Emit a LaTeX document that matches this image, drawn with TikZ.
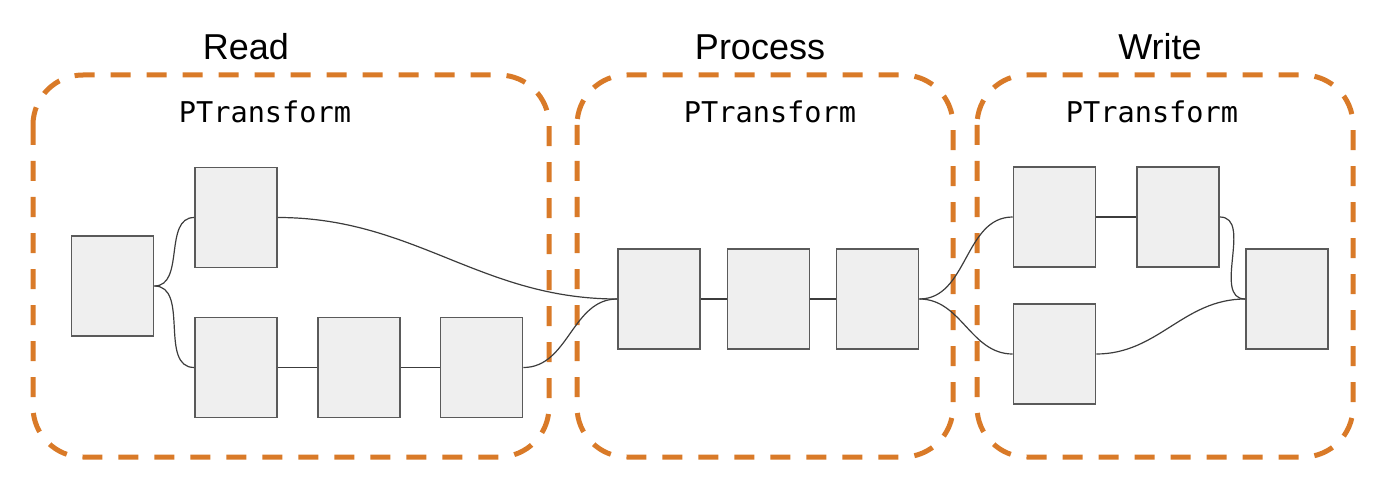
\documentclass[tikz,border=0pt]{standalone}
\usepackage{fontspec}
\setmainfont{Liberation Sans}
\setmonofont{DejaVu Sans Mono}

\definecolor{dashorange}{HTML}{D97A28}
\definecolor{boxfill}{HTML}{EFEFEF}
\definecolor{boxedge}{HTML}{5A5A5A}
\definecolor{wiregray}{HTML}{3C3C3C}

\tikzset{
  stage/.style={draw=dashorange, line width=2.5pt, dash pattern=on 10pt off 8pt, rounded corners=25pt},
  stagetitle/.style={font=\fontsize{18}{20}\selectfont, anchor=base},
  ptlabel/.style={font=\ttfamily\fontsize{14.3}{16}\selectfont, anchor=base},
  pbox/.style={draw=boxedge, fill=boxfill, line width=0.8pt, minimum width=41pt, minimum height=50pt, inner sep=0pt},
  wire/.style={draw=wiregray, line width=0.6pt},
}

\begin{document}
\begin{tikzpicture}[x=0.5pt,y=-0.5pt]
        \useasboundingbox (0,0) rectangle (1400,497);

        % dashed stages
        \draw[stage] (33,75) rectangle (549,457);
        \draw[stage] (577,75) rectangle (953,457);
        \draw[stage] (977,75) rectangle (1353,457);

        % titles
        \node[stagetitle] (readtitle) at (246,60) {Read};
        \node[stagetitle] (proctitle) at (760,60) {Process};
        \node[stagetitle] (writetitle) at (1160,60) {Write};
        \node[ptlabel] (readpt) at (265,123) {PTransform};
        \node[ptlabel] (procpt) at (770,123) {PTransform};
        \node[ptlabel] (writept) at (1152,123) {PTransform};

        % read boxes
        \node[pbox] (r1) at (112.5,286) {};
        \node[pbox] (r2) at (236,217.5) {};
        \node[pbox] (r3) at (236,367.5) {};
        \node[pbox] (r4) at (359,367.5) {};
        \node[pbox] (r5) at (481.5,367.5) {};

        % process boxes
        \node[pbox] (p1) at (659,299) {};
        \node[pbox] (p2) at (768.5,299) {};
        \node[pbox] (p3) at (877.5,299) {};

        % write boxes
        \node[pbox] (w1) at (1054.5,217) {};
        \node[pbox] (w2) at (1178,217) {};
        \node[pbox] (w3) at (1054.5,354) {};
        \node[pbox] (w4) at (1287,299) {};

        % wires
        \draw[wire] (r1.east) to[out=0,in=180] (r2.west);
        \draw[wire] (r1.east) to[out=0,in=180] (r3.west);
        \draw[wire] (r3) -- (r4);
        \draw[wire] (r4) -- (r5);
        \draw[wire] (r2.east) to[out=0,in=180] (p1.west);
        \draw[wire] (r5.east) to[out=0,in=180] (p1.west);
        \draw[wire] (p1) -- (p2);
        \draw[wire] (p2) -- (p3);
        \draw[wire] (p3.east) to[out=0,in=180] (w1.west);
        \draw[wire] (p3.east) to[out=0,in=180] (w3.west);
        \draw[wire] (w1) -- (w2);
        \draw[wire] (w2.east) to[out=0,in=180] (w4.west);
        \draw[wire] (w3.east) to[out=0,in=180] (w4.west);
    \end{tikzpicture}
\end{document}
